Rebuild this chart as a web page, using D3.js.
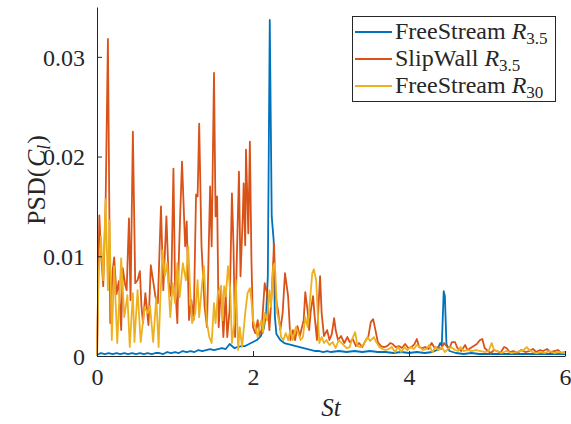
<!DOCTYPE html>
<html>
<head>
<meta charset="utf-8">
<script src="https://cdn.jsdelivr.net/npm/d3@7"></script>
<style>
  html, body { margin: 0; padding: 0; background: #fff; }
  svg { display: block; }
  text { font-family: "Liberation Serif", "DejaVu Serif", serif; fill: #262626; }
</style>
</head>
<body>
<svg id="chart" width="571" height="424"></svg>
<script>
// ---------------- data ----------------
const xTicks = [0, 2, 4, 6];
const yTicks = [0, 0.01, 0.02, 0.03];
const yTickLabels = ["0", "0.01", "0.02", "0.03"];

const seriesNames = ["FreeStream", "SlipWall", "FreeStream"];
const seriesSubs = ["3.5", "3.5", "30"];
const seriesColors = ["#0072BD", "#D95319", "#EDB120"];

// FreeStream R3.5  [St, PSD]
const freeStream35 = [
  [0.00,0.0001],[0.05,0.0003],[0.10,0.0002],[0.15,0.0003],[0.20,0.0002],[0.25,0.0003],
  [0.30,0.0002],[0.35,0.0003],[0.40,0.0002],[0.45,0.0003],[0.50,0.0002],[0.55,0.0003],
  [0.60,0.0002],[0.65,0.0003],[0.70,0.0002],[0.75,0.0003],[0.80,0.0003],[0.85,0.0002],
  [0.90,0.0004],[0.95,0.0003],[1.00,0.0004],[1.05,0.0003],[1.10,0.0005],[1.15,0.0004],
  [1.20,0.0005],[1.25,0.0004],[1.30,0.0006],[1.35,0.0005],[1.40,0.0006],[1.45,0.0007],
  [1.50,0.0006],[1.55,0.0007],[1.60,0.0008],[1.65,0.0007],[1.70,0.0012],[1.73,0.0010],
  [1.76,0.0008],[1.80,0.0009],[1.85,0.0010],[1.90,0.0010],[1.95,0.0012],[2.00,0.0014],
  [2.05,0.0016],[2.10,0.0020],[2.14,0.0028],[2.17,0.0045],[2.19,0.0080],[2.215,0.0337],
  [2.24,0.0140],[2.265,0.0116],[2.28,0.0040],[2.30,0.0022],[2.35,0.0016],[2.40,0.0013],
  [2.45,0.0012],[2.50,0.0011],[2.55,0.0010],[2.60,0.0009],[2.65,0.0008],[2.70,0.0007],
  [2.75,0.0006],[2.80,0.0005],[2.85,0.0005],[2.90,0.0004],[2.95,0.0005],[3.00,0.0004],
  [3.10,0.0005],[3.20,0.0004],[3.30,0.0005],[3.40,0.0004],[3.50,0.0005],[3.60,0.0004],
  [3.70,0.0004],[3.80,0.0003],[3.90,0.0004],[4.00,0.0003],[4.10,0.0004],[4.20,0.0003],
  [4.30,0.0004],[4.36,0.0006],[4.40,0.0013],[4.42,0.0010],[4.445,0.0065],[4.46,0.0060],
  [4.48,0.0012],[4.52,0.0005],[4.60,0.0003],[4.70,0.0002],[4.80,0.0003],[4.90,0.0002],
  [5.00,0.0002],[5.20,0.0002],[5.40,0.0002],[5.60,0.0002],[5.80,0.0002],[6.00,0.0002]
];

// SlipWall R3.5
const slipWall35 = [
  [0.00,0.0000],[0.03,0.0141],[0.05,0.0105],[0.08,0.0070],[0.11,0.0150],[0.14,0.0318],
  [0.17,0.0033],[0.20,0.0085],[0.22,0.0099],[0.25,0.0062],[0.28,0.0075],[0.31,0.0026],
  [0.33,0.0088],[0.36,0.0072],[0.38,0.0066],[0.41,0.0138],[0.43,0.0056],[0.46,0.0225],
  [0.49,0.0073],[0.52,0.0076],[0.55,0.0085],[0.57,0.0050],[0.59,0.0033],[0.62,0.0063],
  [0.66,0.0031],[0.69,0.0091],[0.72,0.0075],[0.75,0.0059],[0.78,0.0053],[0.82,0.0150],
  [0.85,0.0066],[0.89,0.0140],[0.92,0.0073],[0.95,0.0060],[0.98,0.0188],[1.00,0.0073],
  [1.03,0.0033],[1.05,0.0100],[1.07,0.0150],[1.09,0.0195],[1.13,0.0110],[1.15,0.0135],
  [1.18,0.0036],[1.21,0.0056],[1.24,0.0036],[1.27,0.0162],[1.29,0.0160],[1.31,0.0233],
  [1.34,0.0110],[1.38,0.0049],[1.41,0.0029],[1.45,0.0170],[1.47,0.0110],[1.50,0.0284],
  [1.52,0.0140],[1.54,0.0160],[1.56,0.0029],[1.59,0.0070],[1.62,0.0019],[1.65,0.0063],
  [1.67,0.0019],[1.70,0.0046],[1.73,0.0163],[1.75,0.0110],[1.77,0.0019],[1.79,0.0090],
  [1.82,0.0185],[1.84,0.0080],[1.87,0.0143],[1.88,0.0173],[1.90,0.0111],[1.91,0.0207],
  [1.94,0.0123],[1.96,0.0215],[1.98,0.0096],[2.00,0.0029],[2.03,0.0023],[2.06,0.0036],
  [2.08,0.0021],[2.11,0.0026],[2.15,0.0073],[2.18,0.0063],[2.21,0.0026],[2.24,0.0063],
  [2.27,0.0113],[2.29,0.0060],[2.32,0.0046],[2.35,0.0026],[2.38,0.0043],[2.41,0.0083],
  [2.45,0.0060],[2.48,0.0016],[2.51,0.0026],[2.54,0.0016],[2.57,0.0030],[2.60,0.0020],
  [2.65,0.0036],[2.67,0.0064],[2.70,0.0045],[2.72,0.0026],[2.74,0.0045],[2.77,0.0060],
  [2.79,0.0040],[2.82,0.0016],[2.84,0.0050],[2.86,0.0080],[2.88,0.0043],[2.91,0.0020],
  [2.95,0.0026],[2.98,0.0016],[3.01,0.0022],[3.04,0.0038],[3.06,0.0026],[3.09,0.0016],
  [3.13,0.0020],[3.17,0.0013],[3.21,0.0019],[3.24,0.0014],[3.28,0.0017],[3.32,0.0010],
  [3.36,0.0013],[3.40,0.0009],[3.44,0.0015],[3.48,0.0020],[3.51,0.0034],[3.54,0.0037],
  [3.57,0.0026],[3.60,0.0014],[3.64,0.0010],[3.68,0.0009],[3.72,0.0010],[3.76,0.0013],
  [3.79,0.0012],[3.83,0.0009],[3.87,0.0010],[3.91,0.0008],[3.95,0.0012],[3.99,0.0008],
  [4.03,0.0009],[4.07,0.0012],[4.10,0.0017],[4.13,0.0009],[4.17,0.0008],[4.21,0.0009],
  [4.25,0.0007],[4.29,0.0013],[4.33,0.0008],[4.37,0.0009],[4.41,0.0007],[4.45,0.0013],
  [4.49,0.0009],[4.52,0.0008],[4.55,0.0014],[4.59,0.0014],[4.62,0.0008],[4.67,0.0005],
  [4.72,0.0011],[4.75,0.0006],[4.79,0.0008],[4.83,0.0010],[4.87,0.0012],[4.91,0.0016],
  [4.94,0.0017],[4.97,0.0008],[5.01,0.0005],[5.05,0.0003],[5.09,0.0006],[5.13,0.0005],
  [5.17,0.0003],[5.22,0.0009],[5.25,0.0008],[5.29,0.0004],[5.34,0.0005],[5.39,0.0003],
  [5.44,0.0006],[5.49,0.0004],[5.54,0.0005],[5.59,0.0007],[5.63,0.0004],[5.68,0.0006],
  [5.72,0.0005],[5.77,0.0007],[5.81,0.0004],[5.86,0.0005],[5.91,0.0006],[5.95,0.0003],
  [6.00,0.0004]
];

// FreeStream R30
const freeStream30 = [
  [0.00,0.0000],[0.02,0.0080],[0.05,0.0120],[0.08,0.0076],[0.11,0.0157],[0.14,0.0066],
  [0.16,0.0136],[0.19,0.0016],[0.22,0.0090],[0.26,0.0013],[0.31,0.0098],[0.35,0.0039],
  [0.39,0.0061],[0.42,0.0009],[0.46,0.0063],[0.48,0.0014],[0.52,0.0066],[0.56,0.0014],
  [0.61,0.0049],[0.65,0.0043],[0.68,0.0050],[0.72,0.0014],[0.76,0.0059],[0.79,0.0009],
  [0.81,0.0053],[0.84,0.0106],[0.87,0.0080],[0.90,0.0093],[0.94,0.0039],[0.97,0.0073],
  [1.00,0.0053],[1.03,0.0093],[1.06,0.0059],[1.10,0.0093],[1.14,0.0076],[1.17,0.0110],
  [1.19,0.0073],[1.22,0.0033],[1.26,0.0043],[1.29,0.0076],[1.31,0.0039],[1.34,0.0066],
  [1.37,0.0090],[1.41,0.0033],[1.44,0.0019],[1.47,0.0013],[1.50,0.0053],[1.52,0.0033],
  [1.55,0.0063],[1.59,0.0070],[1.61,0.0036],[1.63,0.0070],[1.65,0.0060],[1.68,0.0090],
  [1.71,0.0063],[1.73,0.0013],[1.76,0.0033],[1.78,0.0076],[1.81,0.0006],[1.83,0.0029],
  [1.86,0.0009],[1.90,0.0043],[1.93,0.0063],[1.96,0.0068],[1.98,0.0056],[2.00,0.0036],
  [2.03,0.0029],[2.06,0.0019],[2.08,0.0029],[2.11,0.0036],[2.13,0.0023],[2.15,0.0043],
  [2.18,0.0036],[2.21,0.0066],[2.23,0.0049],[2.26,0.0090],[2.28,0.0093],[2.31,0.0043],
  [2.34,0.0033],[2.36,0.0019],[2.39,0.0016],[2.42,0.0023],[2.45,0.0016],[2.48,0.0026],
  [2.51,0.0016],[2.55,0.0029],[2.58,0.0023],[2.61,0.0016],[2.64,0.0019],[2.67,0.0039],
  [2.70,0.0029],[2.72,0.0046],[2.76,0.0083],[2.78,0.0087],[2.81,0.0076],[2.83,0.0043],
  [2.85,0.0013],[2.88,0.0019],[2.91,0.0013],[2.94,0.0016],[2.98,0.0011],[3.02,0.0014],
  [3.06,0.0008],[3.10,0.0016],[3.15,0.0012],[3.20,0.0008],[3.24,0.0009],[3.27,0.0017],
  [3.31,0.0024],[3.34,0.0010],[3.38,0.0009],[3.42,0.0012],[3.47,0.0019],[3.50,0.0015],
  [3.55,0.0019],[3.58,0.0014],[3.62,0.0009],[3.66,0.0007],[3.70,0.0006],[3.74,0.0007],
  [3.78,0.0009],[3.82,0.0004],[3.86,0.0009],[3.90,0.0004],[3.94,0.0009],[3.98,0.0006],
  [4.02,0.0009],[4.06,0.0007],[4.10,0.0011],[4.14,0.0009],[4.18,0.0006],[4.22,0.0007],
  [4.26,0.0011],[4.30,0.0004],[4.34,0.0009],[4.38,0.0006],[4.42,0.0009],[4.46,0.0004],
  [4.50,0.0007],[4.54,0.0009],[4.59,0.0006],[4.63,0.0005],[4.66,0.0009],[4.70,0.0005],
  [4.75,0.0006],[4.80,0.0005],[4.86,0.0006],[4.92,0.0005],[4.98,0.0004],[5.02,0.0005],
  [5.06,0.0013],[5.09,0.0006],[5.13,0.0005],[5.19,0.0003],[5.25,0.0005],[5.31,0.0003],
  [5.37,0.0004],[5.42,0.0005],[5.47,0.0006],[5.51,0.0009],[5.53,0.0007],[5.58,0.0004],
  [5.64,0.0003],[5.69,0.0004],[5.74,0.0003],[5.80,0.0005],[5.86,0.0003],[5.92,0.0004],
  [6.00,0.0003]
];

const allSeries = [freeStream35, slipWall35, freeStream30];

// ---------------- layout ----------------
const svg = d3.select("#chart");
const axisColor = "#262626";
const serif = '"Liberation Serif", "DejaVu Serif", serif';
const mLeft = 97, mRight = 565, mTop = 7, mBottom = 356;

const x = d3.scaleLinear().domain([0, 6]).range([mLeft, mRight]);
const y = d3.scaleLinear().domain([0, 0.035]).range([mBottom, mTop]);

// lines
const line = d3.line().x(d => x(d[0])).y(d => y(d[1]));
const plot = svg.append("g");
allSeries.forEach((s, i) => {
  plot.append("path")
    .datum(s)
    .attr("d", line)
    .attr("fill", "none")
    .attr("stroke", seriesColors[i])
    .attr("stroke-width", 1.8)
    .attr("stroke-linejoin", "round");
});

// axes (MATLAB style, inward ticks)
const yAxis = d3.axisLeft(y).tickValues(yTicks).tickSizeInner(-5).tickSizeOuter(0)
  .tickFormat((d, i) => yTickLabels[i]).tickPadding(12);
const gy = svg.append("g").attr("transform", `translate(${mLeft},0)`).call(yAxis);
const xAxis = d3.axisBottom(x).tickValues(xTicks).tickSizeInner(-5).tickSizeOuter(0)
  .tickFormat(d3.format("d")).tickPadding(13);
const gx = svg.append("g").attr("transform", `translate(0,${mBottom})`).call(xAxis);

[gx, gy].forEach(g => {
  g.attr("font-family", serif).attr("font-size", 24);
  g.select(".domain").attr("stroke", axisColor).attr("stroke-width", 1);
  g.selectAll(".tick line").attr("stroke", axisColor).attr("stroke-width", 1);
  g.selectAll(".tick text")
    .attr("fill", axisColor)
    .attr("font-family", serif)
    .style("font-family", serif)
    .style("font-size", "24px");
});
gy.selectAll(".tick text").attr("dy", "0.34em");
gx.selectAll(".tick text").attr("dy", "0.68em");

// axis labels
svg.append("text")
  .attr("x", (mLeft + mRight) / 2).attr("y", 416)
  .attr("text-anchor", "middle")
  .style("font-size", "25px").style("font-style", "italic")
  .text("St");

const yl = svg.append("text")
  .attr("transform", "translate(45,180) rotate(-90)")
  .attr("text-anchor", "middle")
  .style("font-size", "26px");
yl.append("tspan").text("PSD(");
yl.append("tspan").style("font-style", "italic").attr("dx", 1.5).text("C");
yl.append("tspan").style("font-style", "italic").style("font-size", "18px").attr("dy", 5).text("l");
yl.append("tspan").attr("dy", -5).attr("dx", 1).text(")");

// legend
const lg = svg.append("g");
lg.append("rect").attr("x", 352.5).attr("y", 16.5).attr("width", 203).attr("height", 85)
  .attr("fill", "#fff").attr("stroke", axisColor).attr("stroke-width", 1);
const rowY = [32, 59, 86];
seriesNames.forEach((name, i) => {
  lg.append("line").attr("x1", 355).attr("x2", 392).attr("y1", rowY[i]).attr("y2", rowY[i])
    .attr("stroke", seriesColors[i]).attr("stroke-width", 1.8);
  const t = lg.append("text").attr("x", 395).attr("y", rowY[i] + 7).style("font-size", "24px");
  t.append("tspan").text(name + " ");
  t.append("tspan").style("font-style", "italic").text("R");
  t.append("tspan").style("font-size", "17px").attr("dy", 5).text(seriesSubs[i]);
});
</script>
</body>
</html>
